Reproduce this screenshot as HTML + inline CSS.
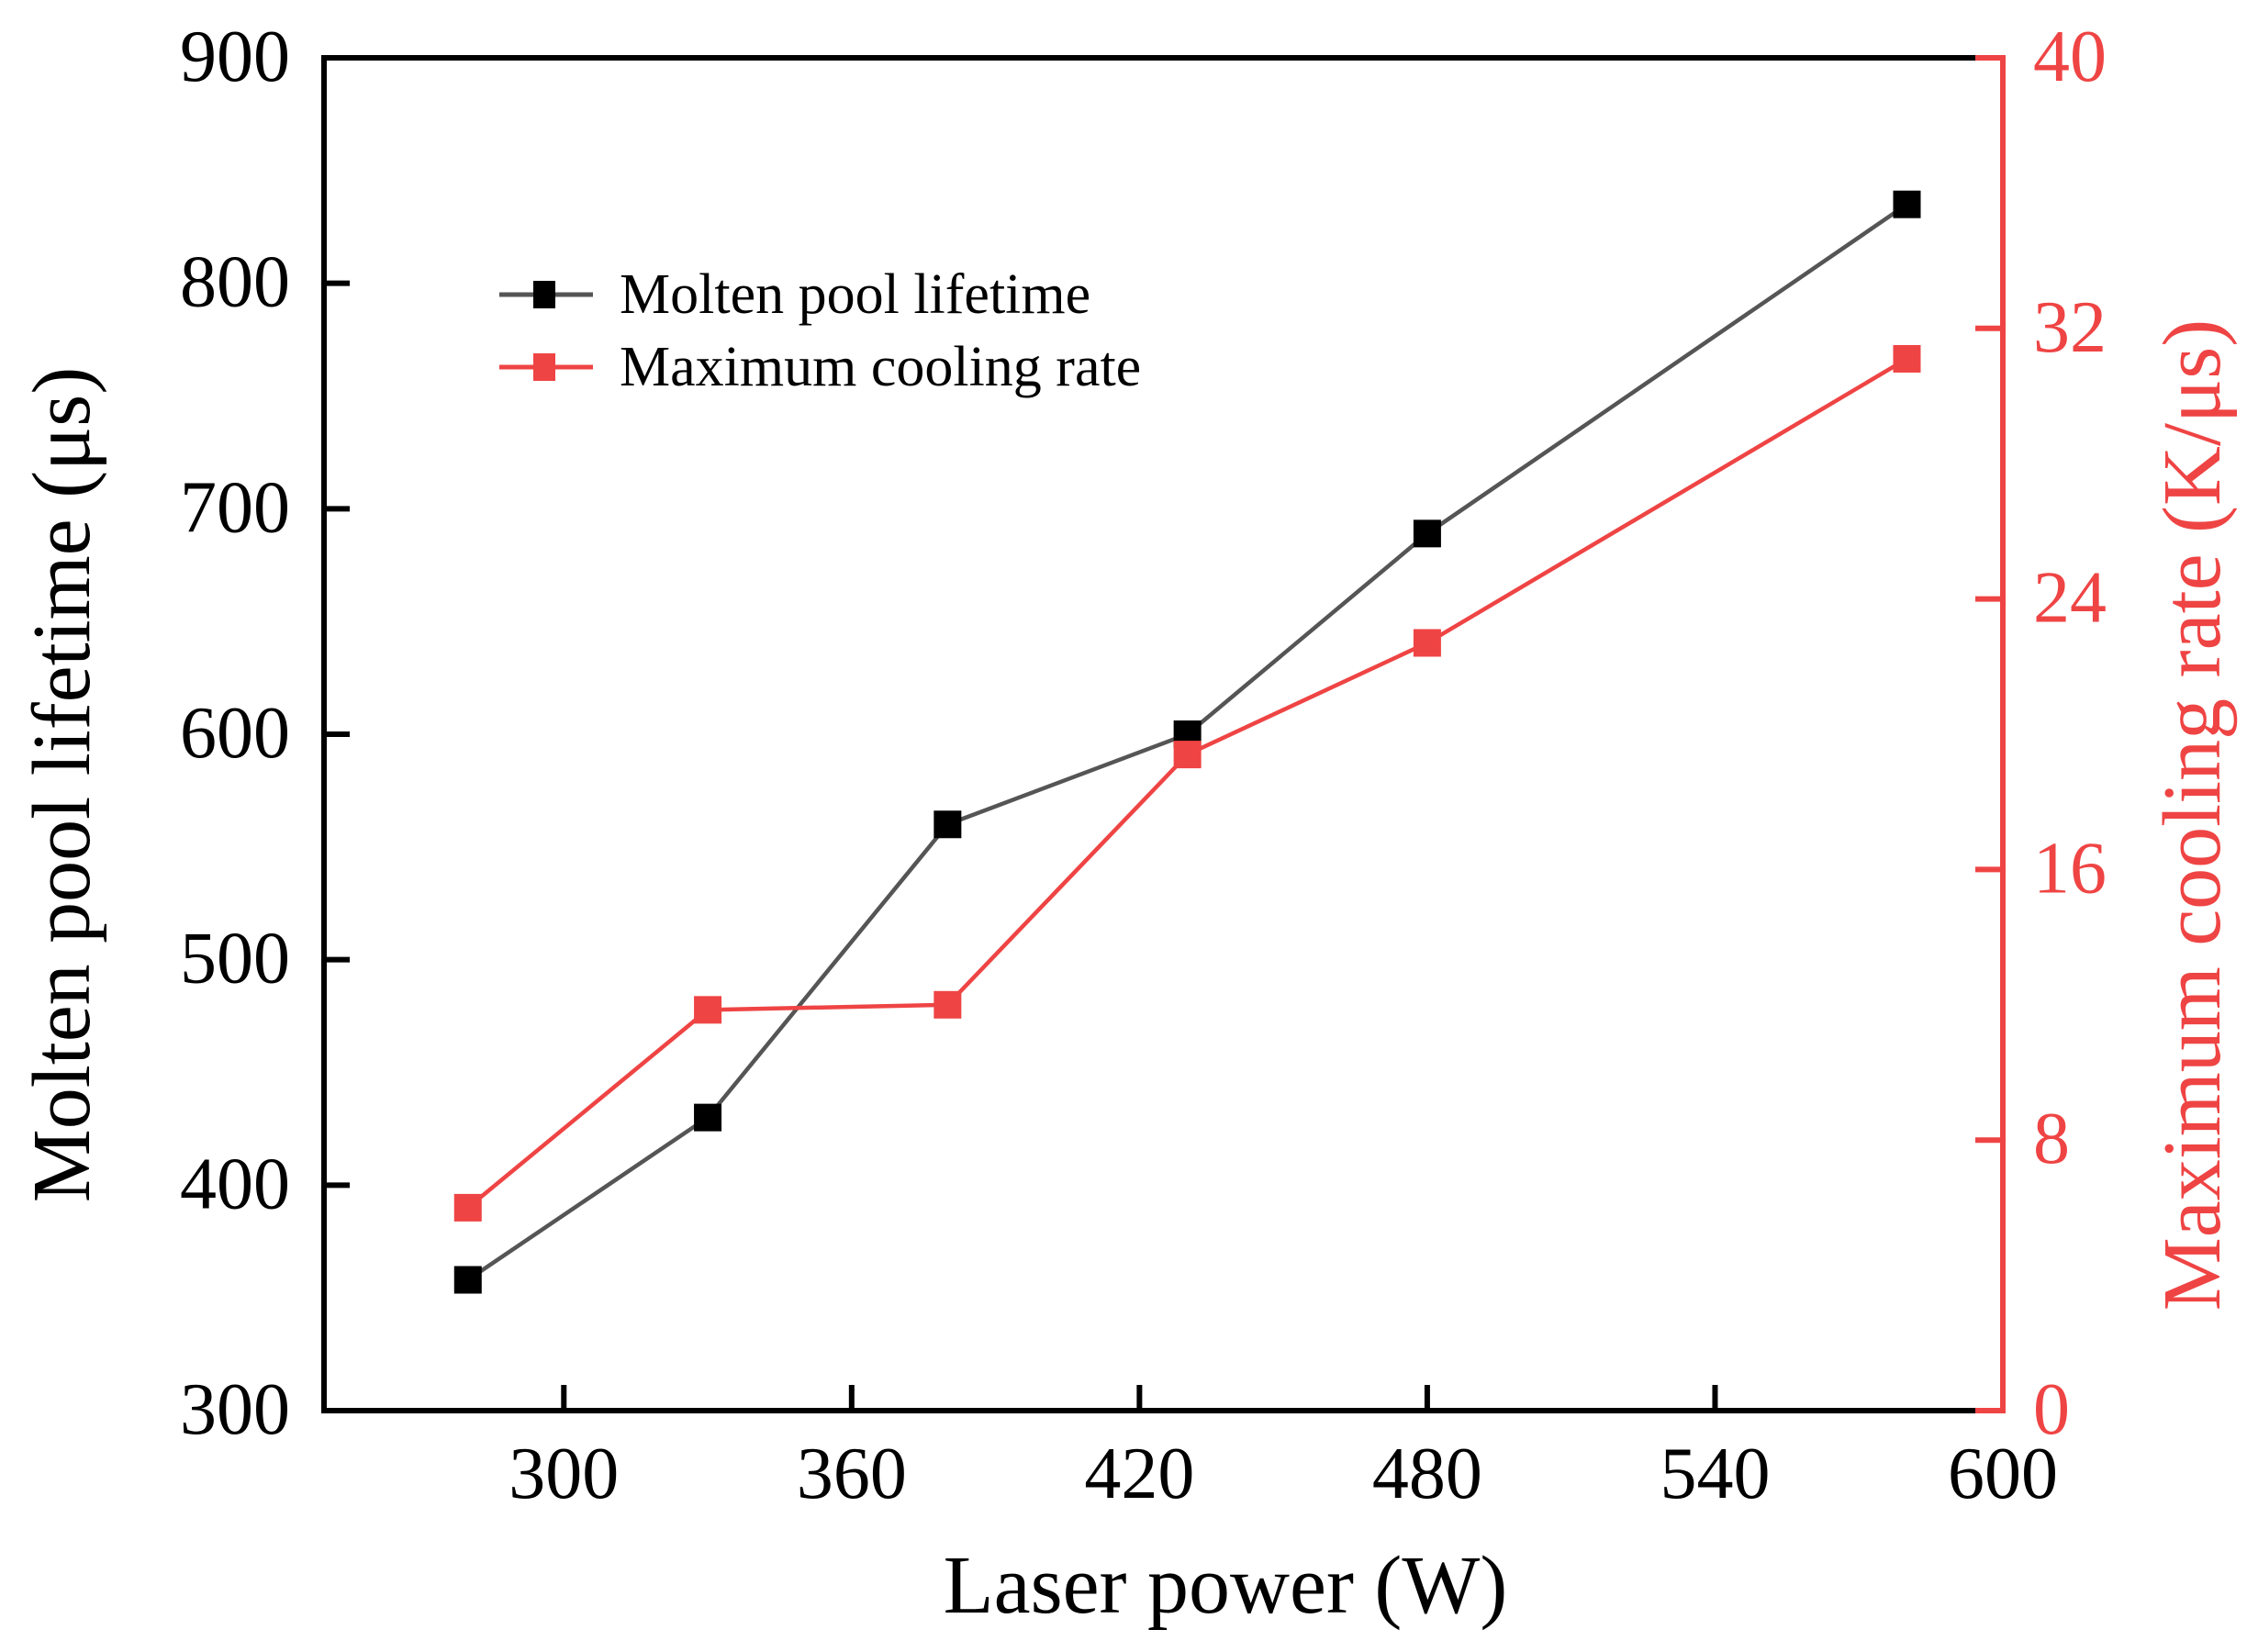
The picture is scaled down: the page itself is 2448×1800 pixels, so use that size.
<!DOCTYPE html>
<html><head><meta charset="utf-8"><style>
html,body{margin:0;padding:0;background:#fff;}
svg{display:block;}
text{font-family:"Liberation Serif",serif;}
</style></head><body>
<svg id="chart" width="2448" height="1800" viewBox="0 0 2448 1800" xmlns="http://www.w3.org/2000/svg"></svg>
<script>
const laserPower = [280, 330, 380, 430, 480, 580];
const lifetime = [358, 430, 560, 600, 689, 835];
const coolingRate = [6.0, 11.85, 12.0, 19.4, 22.7, 31.1];
const xTicks = [300, 360, 420, 480, 540, 600];
const yLeftTicks = [300, 400, 500, 600, 700, 800, 900];
const yRightTicks = [0, 8, 16, 24, 32, 40];

const L=353, R=2182, T=63, B=1537;
const xs = v => L + (v-250)/(600-250)*(R-L);
const yl = v => B - (v-300)/(900-300)*(B-T);
const yr = v => B - v/40*(B-T);
const svg = document.getElementById('chart');
const NS='http://www.w3.org/2000/svg';
function mk(tag, attrs, parent){const e=document.createElementNS(NS,tag);for(const k in attrs)e.setAttribute(k,attrs[k]);(parent||svg).appendChild(e);return e;}
const RED='#ef4444';

xTicks.forEach(v=>{
  const t=mk('line',{x1:xs(v),x2:xs(v),y1:B,y2:B-28,stroke:'#000','stroke-width':6});
  
  
  const l=mk('text',{x:xs(v),y:1632,'text-anchor':'middle','font-size':80});
  l.textContent=v;
  
  
});
yLeftTicks.forEach(v=>{
  const t=mk('line',{x1:L,x2:L+28,y1:yl(v),y2:yl(v),stroke:'#000','stroke-width':6});
  
  
  const l=mk('text',{x:316,y:yl(v)+25,'text-anchor':'end','font-size':80});
  l.textContent=v;
  
  
});
yRightTicks.forEach(v=>{
  const t=mk('line',{x1:R,x2:R-30,y1:yr(v),y2:yr(v),stroke:RED,'stroke-width':6});
  
  
  const l=mk('text',{x:2215,y:yr(v)+25,'text-anchor':'start','font-size':80,fill:RED});
  l.textContent=v;
  
  
});
let a=mk('path',{d:`M${L},${B} L${L},${T} L${R-30},${T}`,fill:'none',stroke:'#000','stroke-width':6});


a=mk('line',{x1:L-3,x2:R-30,y1:B,y2:B,stroke:'#000','stroke-width':6});


a=mk('path',{d:`M${R-30},${T} L${R},${T} L${R},${B} L${R-30},${B}`,fill:'none',stroke:RED,'stroke-width':6});



function series(vals, yf, color, mcolor, name){
  const pts=laserPower.map((x,i)=>`${xs(x)},${yf(vals[i])}`).join(' ');
  const p=mk('polyline',{points:pts,fill:'none',stroke:color,'stroke-width':4.5});
  
  
  laserPower.forEach((x,i)=>{
    const r=mk('rect',{x:xs(x)-15,y:yf(vals[i])-15,width:30,height:30,fill:mcolor});
    
    
  });
}
series(lifetime, yl, '#555', '#000', 'lifetime');
series(coolingRate, yr, RED, RED, 'cooling-rate');

function legend(y,color,mark,label,name){
  const g=mk('g',{});
  
  
  mk('line',{x1:544,x2:646,y1:y,y2:y,stroke:color,'stroke-width':5},g);
  mk('rect',{x:581,y:y-15,width:24,height:30,fill:mark},g);
  const t=mk('text',{x:675,y:y+20,'font-size':62},g);
  t.textContent=label;
}
legend(321,'#555','#000','Molten pool lifetime','legend-entry-lifetime');
legend(400,RED,RED,'Maximum cooling rate','legend-entry-cooling-rate');
</script>
<svg style="position:absolute;left:0;top:0" width="2448" height="1800" viewBox="0 0 2448 1800" xmlns="http://www.w3.org/2000/svg">
<text x="1335" y="1757" text-anchor="middle" font-size="90" font-family="Liberation Serif, serif">Laser power (W)</text>
<text transform="translate(97,855) rotate(-90)" text-anchor="middle" font-size="90" font-family="Liberation Serif, serif">Molten pool lifetime (μs)</text>
<text transform="translate(2418,888) rotate(-90)" text-anchor="middle" font-size="90" fill="#ef4444" font-family="Liberation Serif, serif">Maximum cooling rate (K/μs)</text>
</svg>
</body></html>
